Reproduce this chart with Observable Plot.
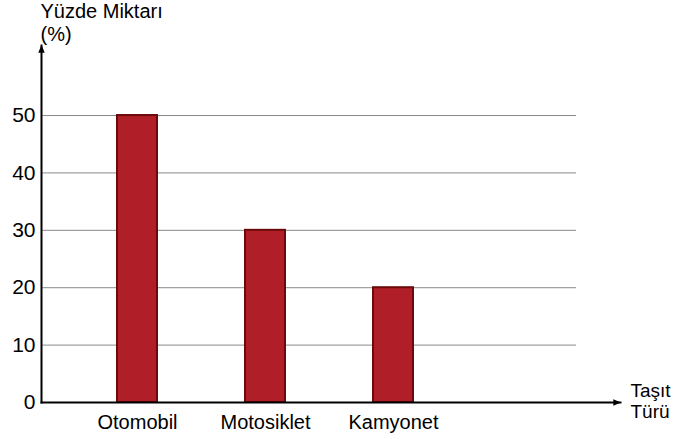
<!DOCTYPE html>
<html>
<head>
<meta charset="utf-8">
<script src="https://cdn.jsdelivr.net/npm/d3@7"></script>
<script src="https://cdn.jsdelivr.net/npm/@observablehq/plot@0.6"></script>
<style>
  html, body { margin: 0; padding: 0; background: #fff; }
  svg { display: block; }
</style>
</head>
<body>
<div id="chart"></div>
<script>
const categories = ["Otomobil", "Motosiklet", "Kamyonet"];
const values = [50, 30, 20];
const yTicks = [0, 10, 20, 30, 40, 50];
const yTitle = "Yüzde Miktarı\n(%)";
const xTitle = "Taşıt\nTürü";

const data = categories.map((c, i) => ({ category: c, value: values[i] }));
const font = "Liberation Sans, Arial, sans-serif";

const chart = Plot.plot({
  width: 688,
  height: 439,
  marginLeft: 41,
  marginTop: 45,
  marginBottom: 37,
  marginRight: 68,
  style: { fontFamily: font, color: "#000", background: "#fff" },
  x: {
    type: "band",
    domain: categories,
    range: [73, 457],
    paddingInner: 0.6875,
    paddingOuter: 0.34375,
    align: 0.5
  },
  y: { domain: [0, 62.2] },
  marks: [
    Plot.ruleY(yTicks.slice(1), { stroke: "#8a8a8a", strokeWidth: 1, insetRight: 44 }),
    Plot.barY(data, { x: "category", y: "value", fill: "#B01F27", stroke: "#6A0A0A", strokeWidth: 2 }),
    Plot.axisY({ ticks: yTicks, tickSize: 0, tickPadding: 6, fontSize: 21, label: null }),
    Plot.axisX({ tickSize: 0, tickPadding: 12, fontSize: 20, label: null }),
    Plot.frame({ anchor: "left", stroke: "#000", strokeWidth: 2 }),
    Plot.frame({ anchor: "bottom", stroke: "#000", strokeWidth: 2 }),
    Plot.text([yTitle], { frameAnchor: "top-left", textAnchor: "start", lineAnchor: "bottom", lineHeight: 1.12, dx: -1, dy: -5, fontSize: 20, fill: "#000" }),
    Plot.text([xTitle], { frameAnchor: "bottom-right", textAnchor: "start", lineAnchor: "middle", lineHeight: 1.15, dx: 10, dy: -2, fontSize: 19, fill: "#000" })
  ]
});

// Arrowheads on the axis lines
const svg = d3.select(chart);
const defs = svg.insert("defs", ":first-child");
defs.append("marker")
  .attr("id", "axarrow")
  .attr("viewBox", "0 0 10 10")
  .attr("refX", 9).attr("refY", 5)
  .attr("markerWidth", 4).attr("markerHeight", 4)
  .attr("markerUnits", "strokeWidth")
  .attr("orient", "auto")
  .append("path").attr("d", "M0,1L10,5L0,9z").attr("fill", "#000");

svg.selectAll("g[aria-label=frame] line, line[aria-label=frame]").each(function () {
  const l = d3.select(this);
  const x1 = +l.attr("x1"), x2 = +l.attr("x2"), y1 = +l.attr("y1"), y2 = +l.attr("y2");
  if (x1 === x2) {
    const top = Math.min(y1, y2), bot = Math.max(y1, y2);
    l.attr("y1", bot).attr("y2", top);
  } else {
    const left = Math.min(x1, x2), right = Math.max(x1, x2);
    l.attr("x1", left).attr("x2", right);
  }
  l.attr("marker-end", "url(#axarrow)");
});

document.getElementById("chart").appendChild(chart);
</script>
</body>
</html>
